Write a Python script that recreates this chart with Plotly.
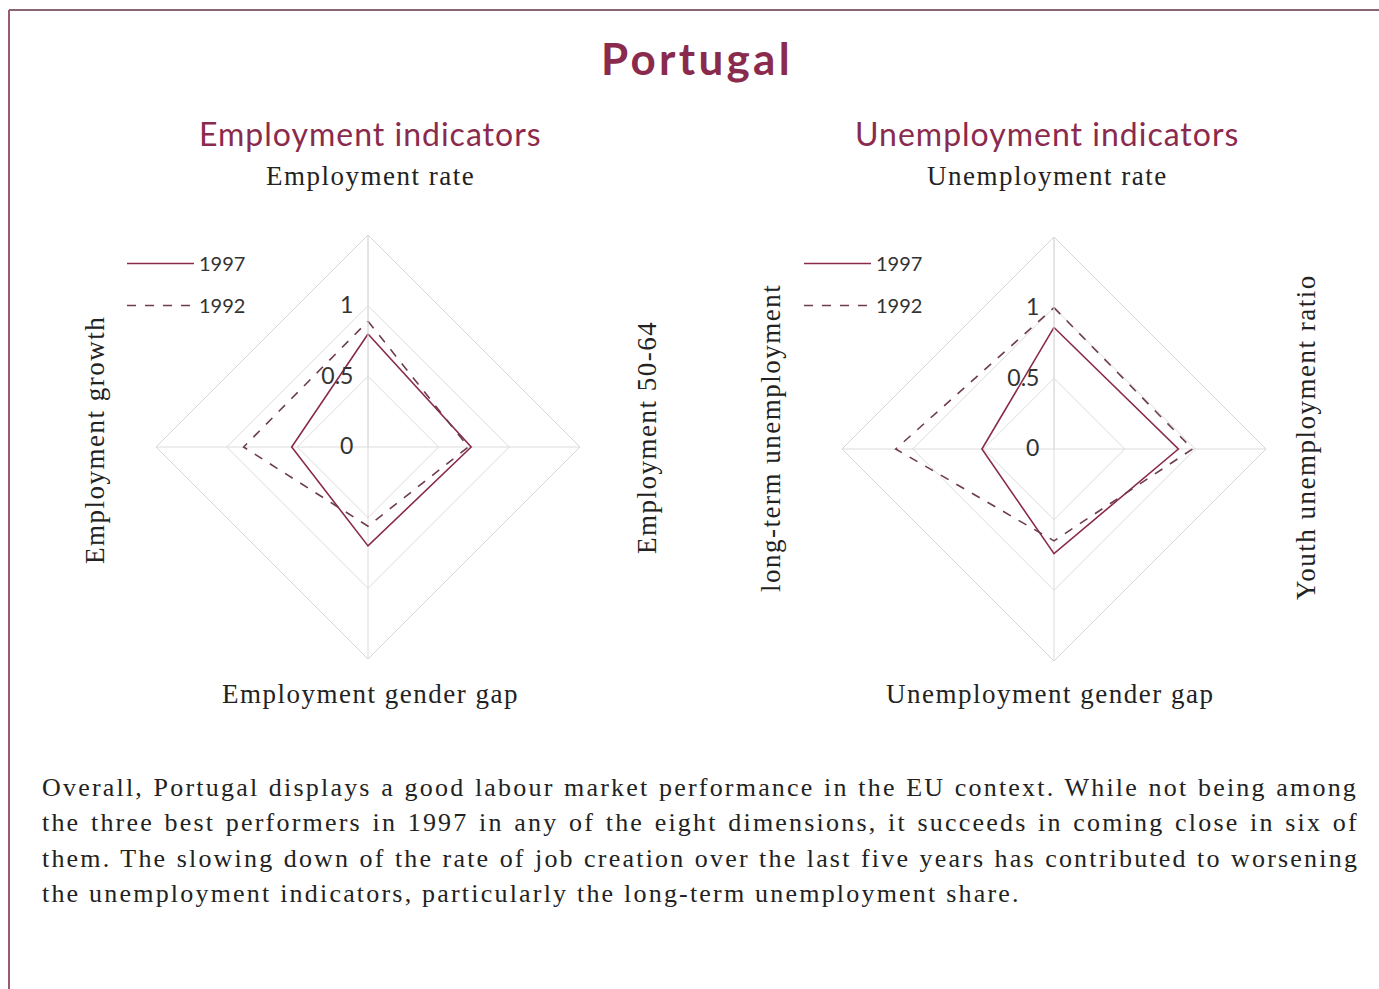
import plotly.graph_objects as go

# ---- data ----
emp_categories = ["Employment rate", "Employment 50-64", "Employment gender gap", "Employment growth"]
emp_1997 = [0.80, 0.73, 0.70, 0.54]
emp_1992 = [0.89, 0.71, 0.56, 0.88]

unemp_categories = ["Unemployment rate", "Youth unemployment ratio", "Unemployment gender gap", "long-term unemployment"]
unemp_1997 = [0.86, 0.88, 0.74, 0.51]
unemp_1992 = [1.00, 0.98, 0.65, 1.12]

radial_ticks = [0, 0.5, 1]
radial_labels = ["0", "0.5", "1"]
years = ["1997", "1992"]

paragraph_lines = [
    "Overall, Portugal displays a good labour market performance in the EU context. While not being among",
    "the three best performers in 1997 in any of the eight dimensions, it succeeds in coming close in six of",
    "them. The slowing down of the rate of job creation over the last five years has contributed to worsening",
    "the unemployment indicators, particularly the long-term unemployment share.",
]
word_spacing = [0.85, 1.9, 0.6, 0]

MAROON = "#8a2b4e"
DASH = "#6e3c52"
SANS = "Lato, 'Open Sans', sans-serif"
SERIF = "'Liberation Serif', 'DejaVu Serif', serif"

W, H = 1379, 989


def closed(v):
    return list(v) + [v[0]]


fig = go.Figure()

for cats, v97, v92, pol, leg in [
    (emp_categories, emp_1997, emp_1992, "polar", "legend"),
    (unemp_categories, unemp_1997, unemp_1992, "polar2", "legend2"),
]:
    fig.add_trace(go.Scatterpolar(
        r=closed(v97), theta=closed(cats), mode="lines", name=years[0],
        line=dict(color=MAROON, width=1.6), subplot=pol, legend=leg, legendgroup="a",
    ))
    fig.add_trace(go.Scatterpolar(
        r=closed(v92), theta=closed(cats), mode="lines", name=years[1],
        line=dict(color=DASH, width=1.6, dash="dash"), subplot=pol, legend=leg, legendgroup="b",
    ))


def polar_layout(cx, cy, R):
    return dict(
        domain=dict(x=[(cx - R) / W, (cx + R) / W],
                    y=[(H - cy - R) / H, (H - cy + R) / H]),
        gridshape="linear",
        bgcolor="rgba(0,0,0,0)",
        radialaxis=dict(
            range=[0, 1.5], tickvals=radial_ticks, ticktext=radial_labels,
            angle=90, tickangle=90, showline=True, linecolor="#dcdcdc", linewidth=1,
            gridcolor="#dcdcdc", gridwidth=1, ticks="outside", ticklen=6,
            tickcolor="rgba(0,0,0,0)", side="counterclockwise",
            tickfont=dict(family=SANS, size=23, color="#333333"),
        ),
        angularaxis=dict(
            rotation=90, direction="clockwise", showticklabels=False, ticks="",
            showline=True, linecolor="#d6d6d6", linewidth=1,
            gridcolor="#dcdcdc", gridwidth=1,
        ),
    )


legend_common = dict(xanchor="left", yanchor="top", bgcolor="rgba(0,0,0,0)",
                     itemwidth=67, tracegroupgap=13, traceorder="grouped",
                     font=dict(family=SANS, size=20, color="#333333"))

fig.update_layout(
    width=W, height=H,
    margin=dict(l=0, r=0, t=0, b=0),
    paper_bgcolor="white", plot_bgcolor="white",
    polar=polar_layout(368, 447, 212),
    polar2=polar_layout(1054, 449, 212),
    legend=dict(x=122 / W, y=1 - 244 / H, **legend_common),
    legend2=dict(x=799 / W, y=1 - 244 / H, **legend_common),
)

ann = []


def txt(text, x, y, size, color="#222222", family=SERIF, angle=0, xanchor="center",
        bold=False, ls=0.0, ws=0.0):
    if bold:
        text = "<b>" + text + "</b>"
    if ls or ws:
        text = '<span style="letter-spacing:%.2fpx;word-spacing:%.2fpx">%s</span>' % (ls, ws, text)
    ann.append(dict(text=text, x=x / W, y=1 - y / H, xref="paper", yref="paper",
                    showarrow=False, xanchor=xanchor, yanchor="middle", textangle=angle,
                    font=dict(family=family, size=size, color=color)))


txt("Portugal", 697, 58, 44, MAROON, SANS, bold=True, ls=3.3)
txt("Employment indicators", 371, 133, 32, MAROON, SANS, ls=1)
txt("Unemployment indicators", 1047, 133, 32, MAROON, SANS, ls=1)
txt(emp_categories[0], 371, 176, 27, ls=1.5)
txt(emp_categories[1], 647, 438, 27, angle=-90, ls=1.5)
txt(emp_categories[2], 371, 694, 27, ls=1.5)
txt(emp_categories[3], 95, 440, 27, angle=-90, ls=1.5)
txt(unemp_categories[0], 1047, 176, 27, ls=1.5)
txt(unemp_categories[1], 1306, 437, 27, angle=-90, ls=1.5)
txt(unemp_categories[2], 1050, 694, 27, ls=1.5)
txt(unemp_categories[3], 771, 438, 27, angle=-90, ls=1.5)

for i, line in enumerate(paragraph_lines):
    txt(line, 40, 787 + i * 35.5, 26, xanchor="left", ls=2.2, ws=word_spacing[i])

fig.update_layout(annotations=ann)

fig.add_shape(type="line", xref="paper", yref="paper", x0=9 / W, x1=1, y0=1 - 10 / H, y1=1 - 10 / H,
              line=dict(color="#8a6474", width=2))
fig.add_shape(type="line", xref="paper", yref="paper", x0=9 / W, x1=9 / W, y0=0, y1=1 - 10 / H,
              line=dict(color="#9a5a72", width=2))

fig.write_html("out.html", config={"displayModeBar": False},
               post_script="document.body.style.margin='0';")
